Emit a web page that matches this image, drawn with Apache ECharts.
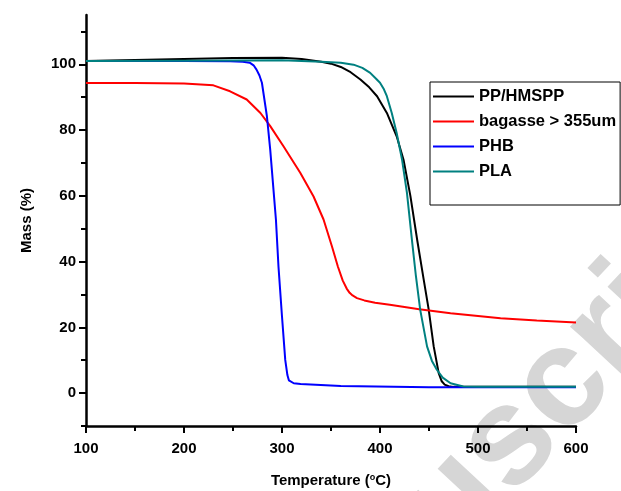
<!DOCTYPE html>
<html>
<head>
<meta charset="utf-8">
<script src="https://cdn.jsdelivr.net/npm/echarts@6/dist/echarts.min.js"></script>
<style>
html,body{margin:0;padding:0;background:#fff;}
#chart{width:621px;height:491px;}
</style>
</head>
<body>
<div id="chart"></div>
<script>
// ---- data ----
var seriesNames = ['PP/HMSPP', 'bagasse > 355um', 'PHB', 'PLA'];

var ppTemp = [100, 150, 200, 250, 300, 320, 340, 350, 360, 370, 380, 389, 397, 407, 417, 424, 431, 438, 444.6, 449.7, 454.8, 459.9, 463, 466, 470, 475, 485, 500, 550, 600];
var ppMass = [101, 101.3, 101.6, 101.9, 102, 101.6, 100.8, 100.2, 99.2, 97.6, 95.4, 93, 90.3, 85.2, 78.1, 71, 60, 46.5, 34.5, 25.4, 14.2, 6.1, 3.6, 2.6, 2.1, 1.9, 1.9, 1.9, 1.9, 1.9];

var bagTemp = [100, 150, 200, 230, 247, 264, 278, 288, 301.5, 318.6, 332.2, 342.4, 351, 357, 362, 366, 369, 372, 376.5, 384, 395, 410, 440, 472, 523, 560, 600];
var bagMass = [94.3, 94.3, 94.2, 93.6, 91.8, 89.3, 85.2, 81.2, 75.1, 67, 59.8, 52.8, 44.6, 38.5, 34.2, 31.8, 30.5, 29.7, 28.9, 28.2, 27.5, 26.9, 25.5, 24.3, 22.8, 22.1, 21.5];

var phbTemp = [100, 200, 247, 260, 267, 271, 274, 277, 279.5, 284.6, 288, 291.3, 293.8, 296.4, 300, 303.3, 305.5, 307, 309, 312, 319, 360, 450, 600];
var phbMass = [101, 101, 100.9, 100.8, 100.5, 99.7, 98.4, 96.6, 94.4, 84.2, 74, 61.9, 52.8, 38.5, 23.3, 10.1, 5.5, 3.9, 3.3, 3.0, 2.8, 2.2, 1.8, 1.8];

var plaTemp = [100, 200, 300, 340, 360, 373, 382, 390, 396, 400, 404, 407, 412, 417, 422.5, 427.5, 432.6, 436.5, 441, 448, 453, 458, 464, 472, 485, 500, 600];
var plaMass = [101, 101.1, 101.2, 100.8, 100.5, 99.9, 98.9, 97.4, 95.6, 94.4, 92.4, 90.3, 85.2, 79.1, 71, 60.9, 46.5, 36, 25.4, 14.2, 9.8, 7.1, 4.7, 3.0, 2.0, 1.9, 1.9];

var xTicks = [100, 200, 300, 400, 500, 600];
var yTicks = [0, 20, 40, 60, 80, 100];
var yMinorTicks = [-10, 10, 30, 50, 70, 90, 110];

var colors = ['#000000', '#ff0000', '#0000ff', '#008080'];

function pairs(t, m) { return t.map(function (v, i) { return [v, m[i]]; }); }
var allData = [pairs(ppTemp, ppMass), pairs(bagTemp, bagMass), pairs(phbTemp, phbMass), pairs(plaTemp, plaMass)];

var FONT = '"Liberation Sans", Arial, sans-serif';

var chart = echarts.init(document.getElementById('chart'), null, {renderer: 'canvas'});
chart.setOption({
  animation: false,
  backgroundColor: '#ffffff',
  grid: {left: 86, right: 45, top: 15, bottom: 65, containLabel: false, outerBoundsMode: 'none'},
  graphic: [{
    type: 'text',
    z: -10,
    silent: true,
    position: [234, 739],
    rotation: 47 * Math.PI / 180,
    style: {
      text: 'Manuscript',
      x: 0, y: 0,
      align: 'left',
      verticalAlign: 'middle',
      font: 'bold 140px ' + FONT,
      fill: '#d6d6d6'
    }
  }],
  legend: {
    orient: 'vertical',
    left: 430,
    top: 82,
    padding: [6, 4, 25, 3],
    icon: 'rect',
    itemWidth: 41,
    itemHeight: 2,
    itemGap: 8,
    borderColor: '#000',
    borderWidth: 1,
    backgroundColor: '#fff',
    data: seriesNames,
    textStyle: {fontFamily: FONT, fontWeight: 'bold', fontSize: 16.5, color: '#000', lineHeight: 15}
  },
  xAxis: {
    type: 'value',
    min: 100, max: 600, interval: 100,
    name: 'Temperature ({sup|o}C)',
    nameLocation: 'middle',
    nameGap: 47,
    nameTextStyle: {
      fontFamily: FONT, fontWeight: 'bold', fontSize: 15, color: '#000',
      rich: {sup: {fontFamily: FONT, fontWeight: 'bold', fontSize: 9, color: '#000', verticalAlign: 'top', padding: [0, 0, 6, 0]}}
    },
    axisLine: {onZero: false, lineStyle: {color: '#000', width: 2.5}},
    axisTick: {show: true, length: 7, lineStyle: {color: '#000', width: 2}},
    minorTick: {show: true, splitNumber: 2, length: 5, lineStyle: {color: '#000', width: 2}},
    splitLine: {show: false},
    minorSplitLine: {show: false},
    axisLabel: {margin: 15, fontFamily: FONT, fontWeight: 'bold', fontSize: 15, color: '#000',
      customValues: xTicks}
  },
  yAxis: [{
    type: 'value',
    min: -10, max: 115,
    position: 'left',
    name: 'Mass (%)',
    nameLocation: 'middle',
    nameGap: 52,
    nameTextStyle: {fontFamily: FONT, fontWeight: 'bold', fontSize: 15, color: '#000'},
    axisLine: {show: true, onZero: false, lineStyle: {color: '#000', width: 2.5}},
    axisTick: {show: true, length: 7, lineStyle: {color: '#000', width: 2}, customValues: yTicks},
    splitLine: {show: false},
    axisLabel: {margin: 10, fontFamily: FONT, fontWeight: 'bold', fontSize: 15, color: '#000', customValues: yTicks}
  }, {
    type: 'value',
    min: -10, max: 115,
    position: 'left',
    offset: 0,
    axisLine: {show: false, onZero: false},
    axisTick: {show: true, length: 5, lineStyle: {color: '#000', width: 2}, customValues: yMinorTicks},
    axisLabel: {show: false},
    splitLine: {show: false}
  }],
  series: allData.map(function (d, i) {
    return {
      name: seriesNames[i],
      type: 'line',
      data: d,
      yAxisIndex: 0,
      showSymbol: false,
      symbol: 'none',
      smooth: false,
      z: 3,
      lineStyle: {color: colors[i], width: 2},
      itemStyle: {color: colors[i]}
    };
  })
});
</script>
</body>
</html>
